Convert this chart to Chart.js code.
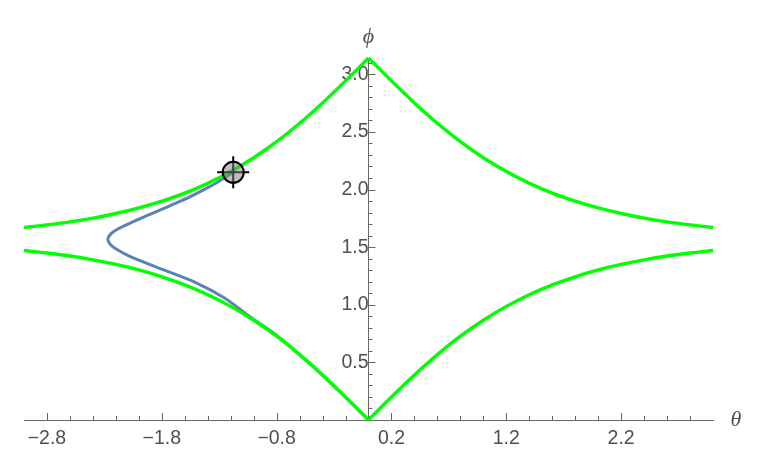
<!DOCTYPE html>
<html>
<head>
<meta charset="utf-8">
<script src="https://cdn.jsdelivr.net/npm/chart.js@4.4.1/dist/chart.umd.min.js"></script>
<style>
html, body { margin: 0; padding: 0; background: #fff; }
</style>
</head>
<body>
<canvas id="grafico" width="766" height="461"></canvas>
<script>
// --- DADOS ---
// metade direita das curvas verdes (a esquerda é o espelho)
const thetaGrid = [0, 0.2, 0.4, 0.6, 0.8, 1.0, 1.2, 1.4, 1.6, 1.8, 2.0, 2.2, 2.4, 2.6, 2.8, 3.0];
const phiLower = [0, 0.199, 0.390, 0.567, 0.727, 0.866, 0.986, 1.087, 1.173, 1.243, 1.302, 1.350, 1.390, 1.423, 1.449, 1.471];
const phiUpper = [3.142, 2.943, 2.752, 2.575, 2.415, 2.276, 2.156, 2.055, 1.969, 1.899, 1.840, 1.792, 1.752, 1.719, 1.693, 1.671];

// trajetória azul, a partir do marcador
const pathTheta = [-1.178, -1.343, -1.474, -1.578, -1.735, -1.909, -2.083, -2.187, -2.248, -2.270, -2.248, -2.187, -2.083, -1.796, -1.500, -1.257, -1.039, -0.80, -0.50, -0.25, 0];
const pathPhi = [2.150, 2.048, 1.977, 1.926, 1.857, 1.782, 1.705, 1.655, 1.611, 1.568, 1.524, 1.477, 1.423, 1.307, 1.191, 1.061, 0.901, 0.735, 0.48, 0.245, 0];

// marcador (locator)
const markerTheta = [-1.178];
const markerPhi = [2.150];

// eixos
const thetaMin = -3, thetaMax = 3;
const phiMin = 0, phiMax = 3.1416;
const xTickLabels = [-2.8, -1.8, -0.8, 0.2, 1.2, 2.2];
const yTickLabels = [0.5, 1.0, 1.5, 2.0, 2.5, 3.0];

const VERDE = '#00ff00';
const AZUL = '#5e81b5';
const CINZA = '#666666';
const TEXTO = '#505050';
const FONTE = '"Liberation Sans", Arial, sans-serif';

function pares(xs, ys, sinal) {
    const pts = xs.map((x, i) => ({ x: sinal * x, y: ys[i] }));
    return sinal < 0 ? pts.reverse() : pts;
}

function curvaVerde(xs, ys, sinal) {
    return {
        data: pares(xs, ys, sinal),
        showLine: true,
        borderColor: VERDE,
        borderWidth: 3.4,
        pointRadius: 0,
        cubicInterpolationMode: 'monotone',
        clip: false,
        order: 2
    };
}

// ticks menores e títulos dos eixos
const decoracaoEixos = {
    id: 'decoracaoEixos',
    beforeDatasetsDraw(chart) {
        const c = chart.ctx;
        const sx = chart.scales.x, sy = chart.scales.y;
        const x0 = sx.getPixelForValue(0);
        const y0 = sy.getPixelForValue(0);
        c.save();
        c.strokeStyle = CINZA;
        c.lineWidth = 1;
        c.beginPath();
        for (let k = 0; k <= 28; k++) {
            const v = -2.8 + k * 0.2;
            const px = Math.round(sx.getPixelForValue(v)) + 0.5;
            const len = (k % 5 === 0) ? 7 : 4;
            c.moveTo(px, y0);
            c.lineTo(px, y0 - len);
        }
        for (let k = 1; k <= 31; k++) {
            const py = Math.round(sy.getPixelForValue(k / 10)) + 0.5;
            const len = (k % 5 === 0) ? 7 : 4;
            c.moveTo(x0, py);
            c.lineTo(x0 + len, py);
        }
        c.stroke();

        c.fillStyle = TEXTO;
        c.font = 'italic 22px "Liberation Serif"';
        c.textAlign = 'center';
        c.textBaseline = 'middle';
        c.fillText('θ', sx.right + 23, y0);
        c.fillText('ϕ', x0, sy.top - 21);
        c.restore();
    }
};

const ctx = document.getElementById('grafico').getContext('2d');

new Chart(ctx, {
    type: 'scatter',
    data: {
        datasets: [
            {
                data: markerTheta.map((x, i) => ({ x, y: markerPhi[i] })),
                pointStyle: 'circle',
                pointRadius: 10.5,
                pointBackgroundColor: 'rgba(128, 128, 128, 0.5)',
                pointBorderColor: '#000',
                pointBorderWidth: 2,
                order: 0
            },
            {
                data: markerTheta.map((x, i) => ({ x, y: markerPhi[i] })),
                pointStyle: 'cross',
                pointRadius: 16,
                pointBorderColor: '#000',
                pointBorderWidth: 2,
                order: 1
            },
            curvaVerde(thetaGrid, phiLower, 1),
            curvaVerde(thetaGrid, phiLower, -1),
            curvaVerde(thetaGrid, phiUpper, 1),
            curvaVerde(thetaGrid, phiUpper, -1),
            {
                data: pathTheta.map((x, i) => ({ x, y: pathPhi[i] })),
                showLine: true,
                borderColor: AZUL,
                borderWidth: 3,
                pointRadius: 0,
                tension: 0.3,
                clip: false,
                order: 3
            }
        ]
    },
    options: {
        responsive: false,
        animation: false,
        events: [],
        layout: { padding: { left: 24, right: 53, top: 58, bottom: 0 } },
        plugins: { legend: { display: false }, tooltip: { enabled: false } },
        scales: {
            x: {
                type: 'linear',
                min: thetaMin,
                max: thetaMax,
                position: 'bottom',
                grid: { display: false, drawTicks: false },
                border: { display: true, color: CINZA, width: 1 },
                afterFit: (scale) => { scale.height = 41; },
                afterBuildTicks: (scale) => { scale.ticks = xTickLabels.map(v => ({ value: v })); },
                ticks: {
                    autoSkip: false,
                    maxRotation: 0,
                    padding: 7,
                    color: TEXTO,
                    font: { family: FONTE, size: 19.5 },
                    callback: (v) => (v < 0 ? '\u2212' + Math.abs(v).toFixed(1) : v.toFixed(1))
                }
            },
            y: {
                type: 'linear',
                min: phiMin,
                max: phiMax,
                position: { x: 0 },
                grid: { display: false, drawTicks: false },
                border: { display: true, color: CINZA, width: 1 },
                afterBuildTicks: (scale) => { scale.ticks = yTickLabels.map(v => ({ value: v })); },
                ticks: {
                    autoSkip: false,
                    padding: 7,
                    color: TEXTO,
                    font: { family: FONTE, size: 19.5 },
                    callback: (v) => v.toFixed(1)
                }
            }
        }
    },
    plugins: [decoracaoEixos]
});
</script>
</body>
</html>
